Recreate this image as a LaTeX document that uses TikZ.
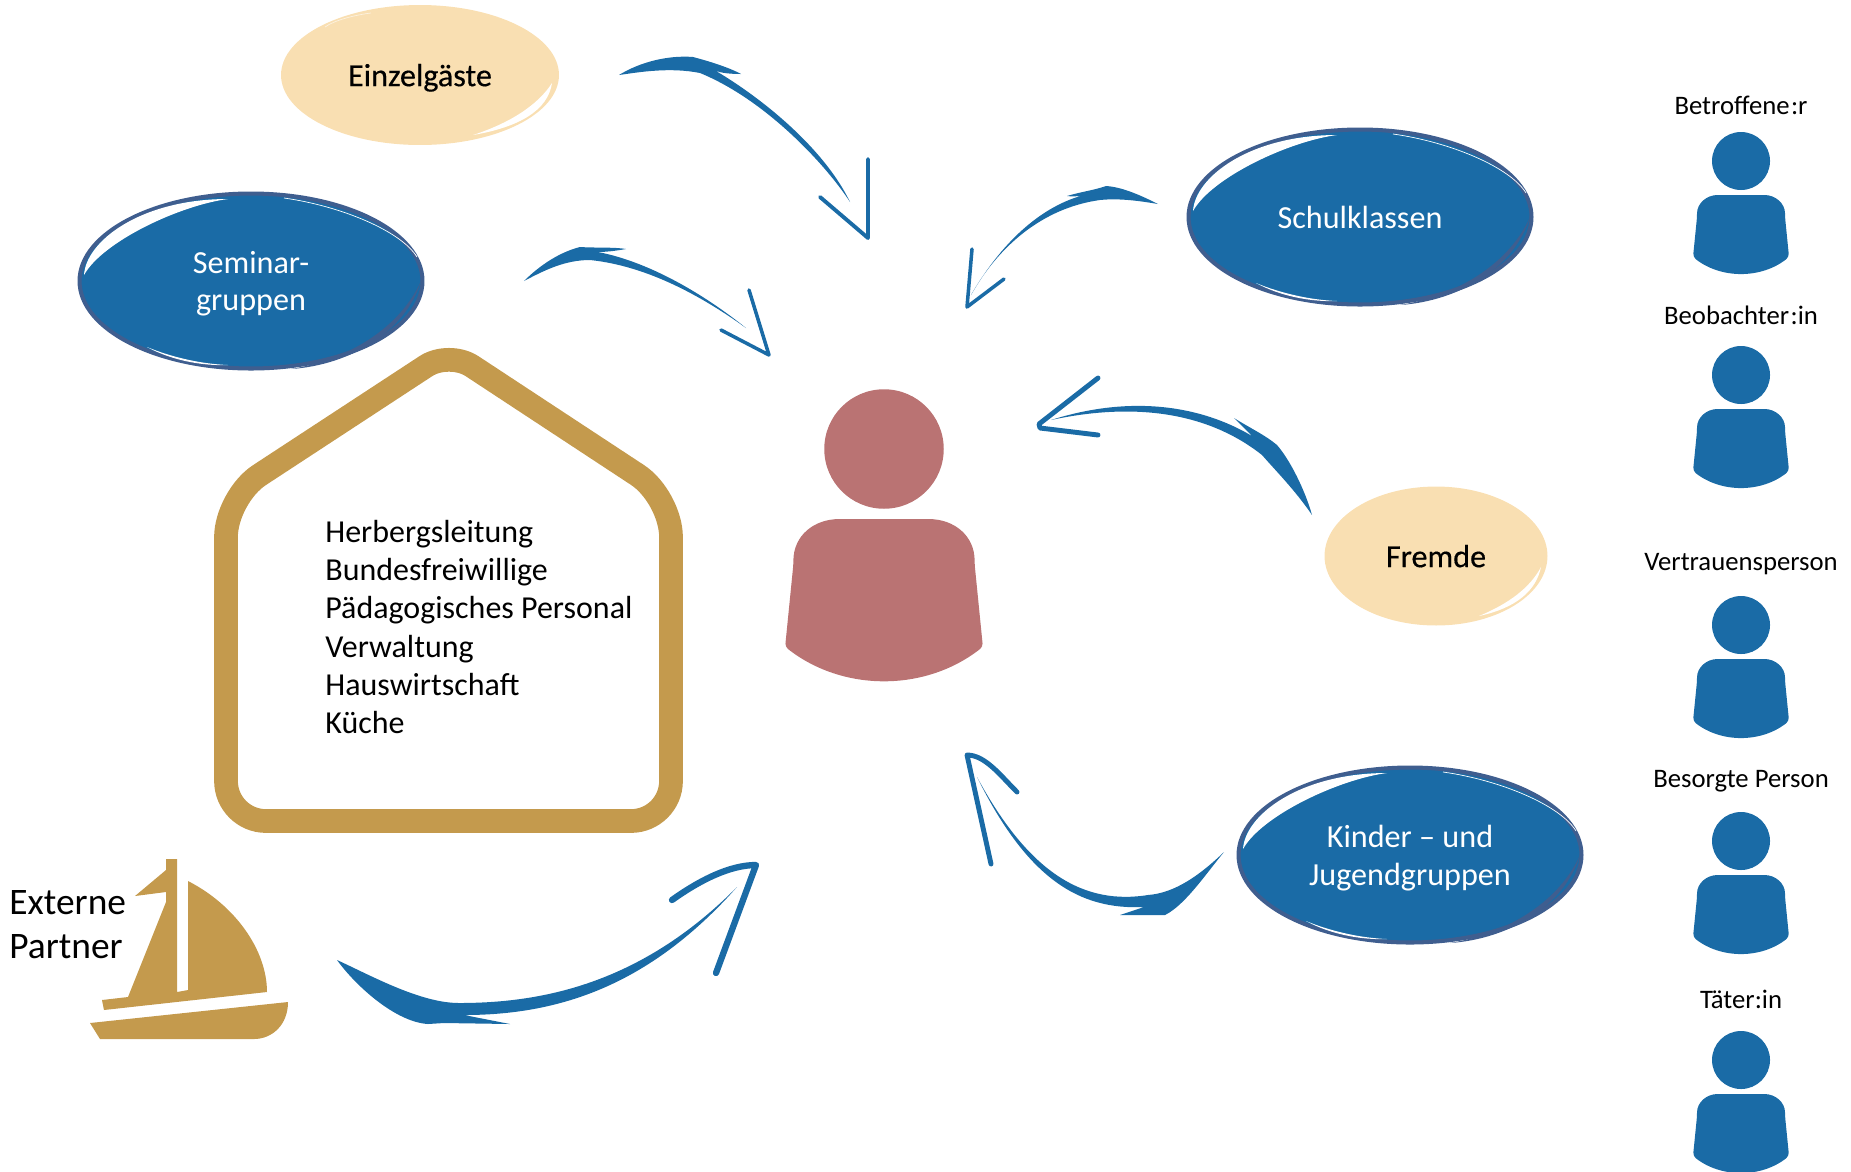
\documentclass[tikz,border=0pt]{standalone}
\usepackage{fontspec}
\setmainfont{Carlito}
\usetikzlibrary{shapes.geometric}
\definecolor{boxblue}{HTML}{1A6BA6}
\definecolor{edgeblue}{HTML}{3F5E8F}
\definecolor{cream}{HTML}{F9DFB2}
\definecolor{gold}{HTML}{C49A4D}
\definecolor{rose}{HTML}{BA7373}
\tikzset{
  person/.pic={
    \fill[#1] (0,0) circle (29);
    \fill[#1, rounded corners=2] (-48,96) .. controls (-20,118) and (20,118) .. (48,96)
      -- (44,56) .. controls (44,42) and (34,34) .. (20,34) -- (-20,34)
      .. controls (-34,34) and (-44,42) .. (-44,56) -- cycle;
  }
}
\begin{document}
\begin{tikzpicture}[x=0.02cm, y=-0.02cm,
    bluegroup/.style={ellipse, draw=edgeblue, line width=2.3pt, fill=boxblue, text=white, align=center,
      inner sep=0pt, minimum width=6.86cm, minimum height=3.5cm, text depth=0pt,
      font=\fontsize{18.3}{21.5}\selectfont},
    creamgroup/.style={ellipse, fill=cream, align=center, inner sep=0pt, text depth=0pt,
      font=\fontsize{18.3}{21.5}\selectfont\addfontfeature{FakeBold=0.4}},
    smalllabel/.style={font=\fontsize{15.2}{17}\selectfont},
    brush/.style={fill=boxblue},
    barbs/.style={draw=boxblue, line cap=round, line join=round, line width=#1}]
  \clip (0,0) rectangle (1851,1171);

  \node[creamgroup, minimum width=5.56cm, minimum height=2.8cm] (einzel) at (420,75) {Einzelgäste};
  \node[creamgroup, minimum width=4.46cm, minimum height=2.78cm] (fremde) at (1436,556) {Fremde};
  \node[bluegroup] (seminar) at (251,281) {Seminar-\\gruppen};
  \node[bluegroup] (schul) at (1360,217) {Schulklassen};
  \node[bluegroup] (kinder) at (1410,855) {Kinder -- und\\Jugendgruppen};

  \foreach \n in {seminar,schul,kinder} {
    \begin{scope}[shift={(\n.center)}]
      \fill[white] (-167,-6) .. controls (-165,-40) and (-110,-82) .. (-23,-82)
        .. controls (-70,-76) and (-148,-40) .. cycle;
      \fill[white] (-104,66) .. controls (-80,76) and (-50,83) .. (-23,84)
        .. controls (-50,85) and (-80,79) .. cycle;
      \draw[white, line width=0.4pt] (33,-83) .. controls (90,-75) and (150,-50) .. (166,-24);
      \fill[edgeblue] (170,0) .. controls (155,50) and (100,84) .. (40,88)
        .. controls (100,78) and (150,45) .. cycle;
    \end{scope}
  }
  \fill[white, shift={(einzel.center)}] (132,8) .. controls (128,35) and (100,52) .. (53,60)
    .. controls (90,48) and (118,30) .. cycle;
  \draw[white, opacity=0.6, line width=0.4pt, shift={(einzel.center)}] (-95,-48) .. controls (-85,-55) and (-65,-60) .. (-49,-62);
  \fill[white, shift={(fremde.center)}] (105,11) .. controls (100,35) and (80,52) .. (43,60)
    .. controls (72,48) and (94,32) .. cycle;

  \draw[gold, line width=13.5pt, rounded corners=0.8cm] (449,821) -- (226,821) -- (226,497)
    [rounded corners=0.55cm] -- (449,351) [rounded corners=0.8cm] -- (671,497) -- (671,821) -- cycle;
  \node[anchor=west, align=left, inner sep=0pt, font=\fontsize{18.2}{21.8}\selectfont] (staff) at (325,627)
    {Herbergsleitung\\Bundesfreiwillige\\Pädagogisches Personal\\Verwaltung\\Hauswirtschaft\\Küche};

  \fill[gold] (90,1023) -- (288,1002) .. controls (288,1025) and (272,1039) .. (254,1039) -- (100,1039) -- cycle;
  \fill[gold] (102,1000) -- (128,997) -- (166,902) -- (166,892) -- (135,896) -- (166,870) -- (166,859)
    -- (177,859) -- (177,992) -- (188,990) -- (188,881) .. controls (235,905) and (267,950) .. (267,992)
    -- (104,1010) -- cycle;
  \node[anchor=west, align=left, inner sep=0pt, font=\fontsize{21.3}{25}\selectfont] (extern) at (9,925) {Externe\\Partner};

  \pic[scale=2.06] (center) at (884,449) {person=rose};
  \foreach \hy/\ly/\who [count=\i] in {161/105/Betrof{}fene\kern0.8pt:r, 375/315/Beobachter\kern0.8pt:in,
      625/564/Vertrauensperson, 841/781/Besorgte Person, 1060/999/Täter:in} {
    \pic at (1741,\hy) {person=boxblue};
    \node[smalllabel] (role\i) at (1741,\ly) {\who};
  }

  \coordinate (a1s) at (619,75);
  \coordinate (a1e) at (850,202);
  \coordinate (a1t) at (868,238);
  \fill[brush] (a1s) .. controls (640,62) and (668,55) .. (693,57) .. controls (712,62) and (730,68) .. (741,74)
    .. controls (730,74) and (722,73) .. (716,71) .. controls (765,100) and (825,150) .. (a1e)
    .. controls (826,165) and (766,100) .. (700,73) .. controls (670,67) and (640,72) .. (a1s);
  \draw[barbs=2.2pt] (820,197) -- (a1t) -- (868,159);

  \coordinate (a2s) at (524,281);
  \coordinate (a2e) at (746,328);
  \coordinate (a2t) at (769,355);
  \fill[brush] (a2s) .. controls (540,265) and (560,252) .. (580,247) .. controls (595,248) and (615,247) .. (626,249)
    .. controls (615,251) and (605,252) .. (598,252) .. controls (650,262) and (705,295) .. (a2e)
    .. controls (703,297) and (648,266) .. (590,260) .. controls (565,260) and (545,270) .. (a2s);
  \draw[barbs=2pt] (749,290) -- (a2t) -- (721,330);

  \coordinate (a3s) at (1158,204);
  \coordinate (a3e) at (971,295);
  \coordinate (a3t) at (967,307);
  \fill[brush] (a3s) .. controls (1140,195) and (1122,187) .. (1106,186) .. controls (1095,190) and (1080,192) .. (1067,196)
    .. controls (1075,197) and (1082,196) .. (1088,194) .. controls (1040,205) and (1000,245) .. (a3e)
    .. controls (998,247) and (1042,208) .. (1100,200) .. controls (1120,198) and (1140,201) .. (a3s);
  \draw[barbs=2pt] (972,249) -- (a3t) -- (1004,279);

  \coordinate (a4s) at (1312,515);
  \coordinate (a4e) at (1051,420);
  \coordinate (a4t) at (1039,424);
  \fill[brush] (a4s) .. controls (1305,490) and (1290,460) .. (1277,445) .. controls (1265,435) and (1250,428) .. (1234,418)
    -- (1252,436) .. controls (1200,405) and (1130,395) .. (a4e)
    .. controls (1130,403) and (1205,410) .. (1262,455) .. controls (1275,470) and (1295,490) .. (a4s);
  \draw[barbs=2.8pt] (1098,378) -- (a4t) -- (1040,428) -- (1098,435);

  \coordinate (a5s) at (1224,852);
  \coordinate (a5e) at (977,777);
  \coordinate (a5t) at (967,755);
  \fill[brush] (a5s) .. controls (1200,875) and (1175,893) .. (1148,895) .. controls (1085,905) and (1030,875) .. (a5e)
    .. controls (1028,880) and (1080,910) .. (1144,907) -- (1120,915) -- (1165,915)
    .. controls (1185,905) and (1205,875) .. (a5s);
  \draw[barbs=2.8pt] (991,864) -- (a5t) .. controls (985,755) and (1000,775) .. (1017,792);

  \coordinate (a6s) at (337,960);
  \coordinate (a6e) at (737,887);
  \coordinate (a6t) at (756,865);
  \fill[brush] (a6s) .. controls (370,975) and (420,1003) .. (459,1003) .. controls (540,1003) and (640,985) .. (a6e)
    .. controls (650,985) and (560,1015) .. (464,1015) -- (510,1024) -- (444,1023) -- (428,1024)
    .. controls (395,1022) and (355,985) .. (a6s);
  \draw[barbs=3.6pt] (672,900) .. controls (700,880) and (730,865) .. (a6t) -- (716,973);
\end{tikzpicture}
\end{document}
